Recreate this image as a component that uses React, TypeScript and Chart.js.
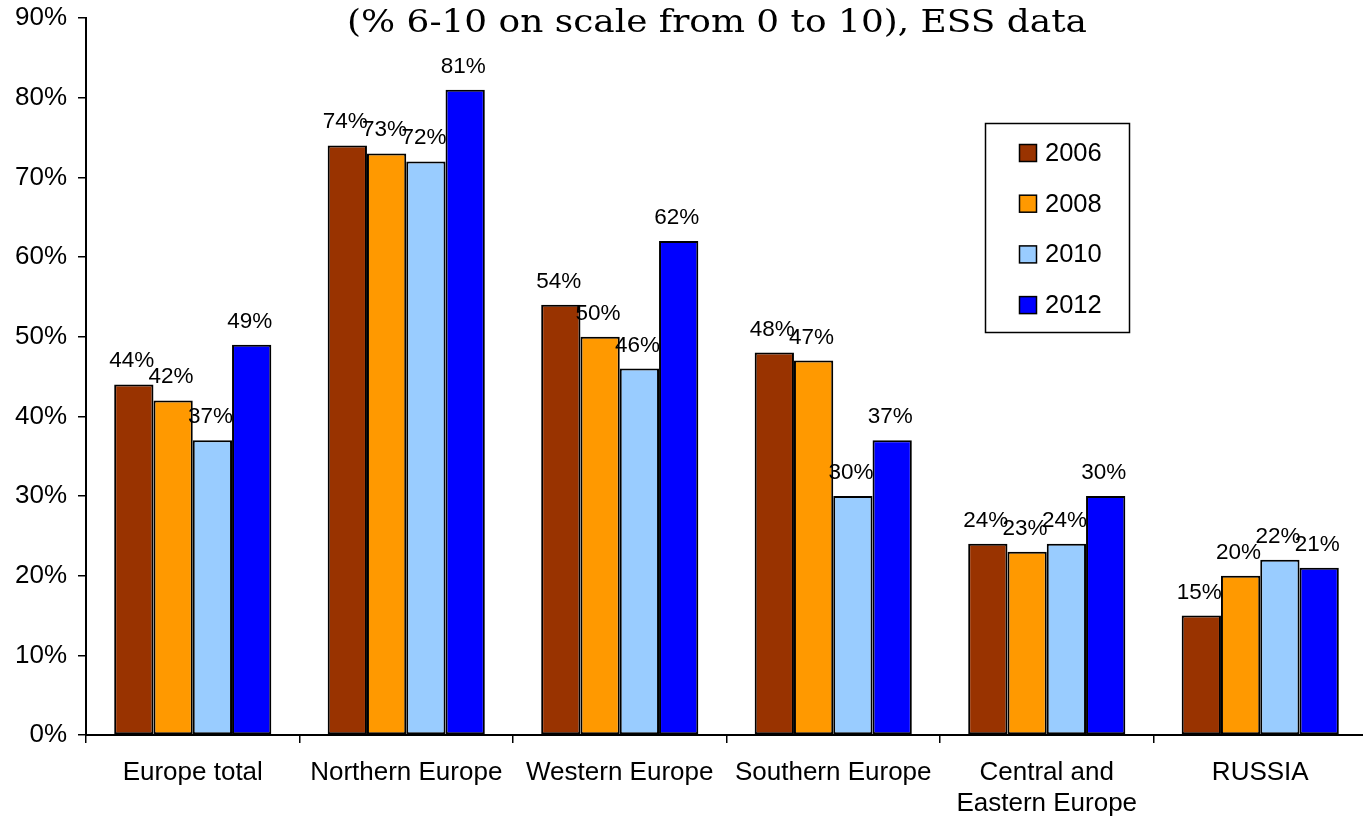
import React, { useEffect, useRef } from "react";
import { Chart, registerables } from "chart.js";

Chart.register(...registerables);

const categories: (string | string[])[] = [
  "Europe total",
  "Northern Europe",
  "Western Europe",
  "Southern Europe",
  ["Central and", "Eastern Europe"],
  "RUSSIA",
];
const seriesLabels = ["2006", "2008", "2010", "2012"];
const seriesColors = ["#993300", "#FF9900", "#99CCFF", "#0000FF"];
const values2006 = [44, 74, 54, 48, 24, 15];
const values2008 = [42, 73, 50, 47, 23, 20];
const values2010 = [37, 72, 46, 30, 24, 22];
const values2012 = [49, 81, 62, 37, 30, 21];
const yTicks = [0, 10, 20, 30, 40, 50, 60, 70, 80, 90];
const titleText = "(% 6-10 on scale from 0 to 10), ESS data";

const SANS = "Arial, 'Liberation Sans', sans-serif";

const titlePlugin = {
  id: "topTitle",
  afterDraw(chart: any) {
    const ctx = chart.ctx;
    ctx.save();
    ctx.fillStyle = "#000";
    ctx.font = "31px 'DejaVu Serif', serif";
    ctx.textAlign = "center";
    ctx.textBaseline = "alphabetic";
    const w = ctx.measureText(titleText).width;
    const sx = 740 / w;
    ctx.translate(717, 32);
    ctx.scale(sx, 1);
    ctx.fillText(titleText, 0, 0);
    ctx.restore();
  },
};

const dataLabelPlugin = {
  id: "dataLabels",
  afterDatasetsDraw(chart: any) {
    const ctx = chart.ctx;
    ctx.save();
    ctx.fillStyle = "#000";
    ctx.font = `22.5px ${SANS}`;
    ctx.textAlign = "center";
    ctx.textBaseline = "alphabetic";
    chart.data.datasets.forEach((ds: any, di: number) => {
      const meta = chart.getDatasetMeta(di);
      meta.data.forEach((el: any, i: number) => {
        ctx.fillText(`${ds.data[i]}%`, el.x - 2, el.y - 17);
      });
    });
    ctx.restore();
  },
};

const boxLegendPlugin = {
  id: "boxLegend",
  afterDraw(chart: any) {
    const ctx = chart.ctx;
    ctx.save();
    ctx.strokeStyle = "#000";
    ctx.lineWidth = 1.5;
    ctx.fillStyle = "#fff";
    ctx.fillRect(985, 123, 144, 209);
    ctx.strokeRect(985.5, 123.5, 144, 209);
    ctx.font = `25.5px ${SANS}`;
    ctx.textAlign = "left";
    ctx.textBaseline = "middle";
    chart.data.datasets.forEach((ds: any, i: number) => {
      const cy = 153 + i * 50.7;
      ctx.fillStyle = ds.backgroundColor;
      ctx.fillRect(1019, cy - 8.5, 17, 17);
      ctx.lineWidth = 1.5;
      ctx.strokeRect(1019.5, cy - 8.5, 17, 17);
      ctx.fillStyle = "#000";
      ctx.fillText(ds.label, 1045, cy + 1);
    });
    ctx.restore();
  },
};

export default function App() {
  const ref = useRef<HTMLCanvasElement | null>(null);

  useEffect(() => {
    if (!ref.current) return;
    const allValues = [values2006, values2008, values2010, values2012];
    const chart = new Chart(ref.current, {
      type: "bar",
      data: {
        labels: categories,
        datasets: allValues.map((vals, i) => ({
          label: seriesLabels[i],
          data: vals,
          backgroundColor: seriesColors[i],
          borderColor: "#000",
          borderWidth: 2,
          borderSkipped: false,
          barPercentage: 1,
          categoryPercentage: 0.736,
        })),
      },
      options: {
        responsive: false,
        devicePixelRatio: 1,
        animation: false,
        layout: { padding: { top: 18, right: 5, left: 0, bottom: 0 } },
        plugins: {
          legend: { display: false },
          title: { display: false },
          tooltip: { enabled: false },
        },
        scales: {
          x: {
            afterFit: (scale: any) => {
              scale.height = 83;
              scale.paddingLeft = 0;
              scale.paddingRight = 0;
            },
            border: { color: "#000", width: 2 },
            grid: {
              display: true,
              offset: true,
              drawOnChartArea: false,
              drawTicks: true,
              tickLength: 8,
              color: "#000",
              lineWidth: 1.5,
            },
            ticks: {
              color: "#000",
              font: { family: SANS, size: 26, lineHeight: 1.2 },
              padding: 14,
              maxRotation: 0,
              autoSkip: false,
            },
          },
          y: {
            min: 0,
            max: 90,
            afterFit: (scale: any) => {
              scale.width = 86;
              scale.paddingTop = 0;
              scale.paddingBottom = 0;
            },
            afterBuildTicks: (scale: any) => {
              scale.ticks = yTicks.map((v) => ({ value: v }));
            },
            border: { color: "#000", width: 2 },
            grid: {
              display: true,
              drawOnChartArea: false,
              drawTicks: true,
              tickLength: 8,
              color: "#000",
              lineWidth: 1.5,
            },
            ticks: {
              color: "#000",
              font: { family: SANS, size: 26 },
              padding: 11,
              callback: (v: any) => `${v}%`,
            },
          },
        },
      },
      plugins: [titlePlugin, dataLabelPlugin, boxLegendPlugin],
    });
    return () => chart.destroy();
  }, []);

  return (
    <div
      style={{
        position: "absolute",
        left: 0,
        top: 0,
        width: 1363,
        height: 818,
        overflow: "hidden",
        background: "#fff",
      }}
    >
      <canvas ref={ref} width={1372} height={818} style={{ display: "block" }} />
    </div>
  );
}
